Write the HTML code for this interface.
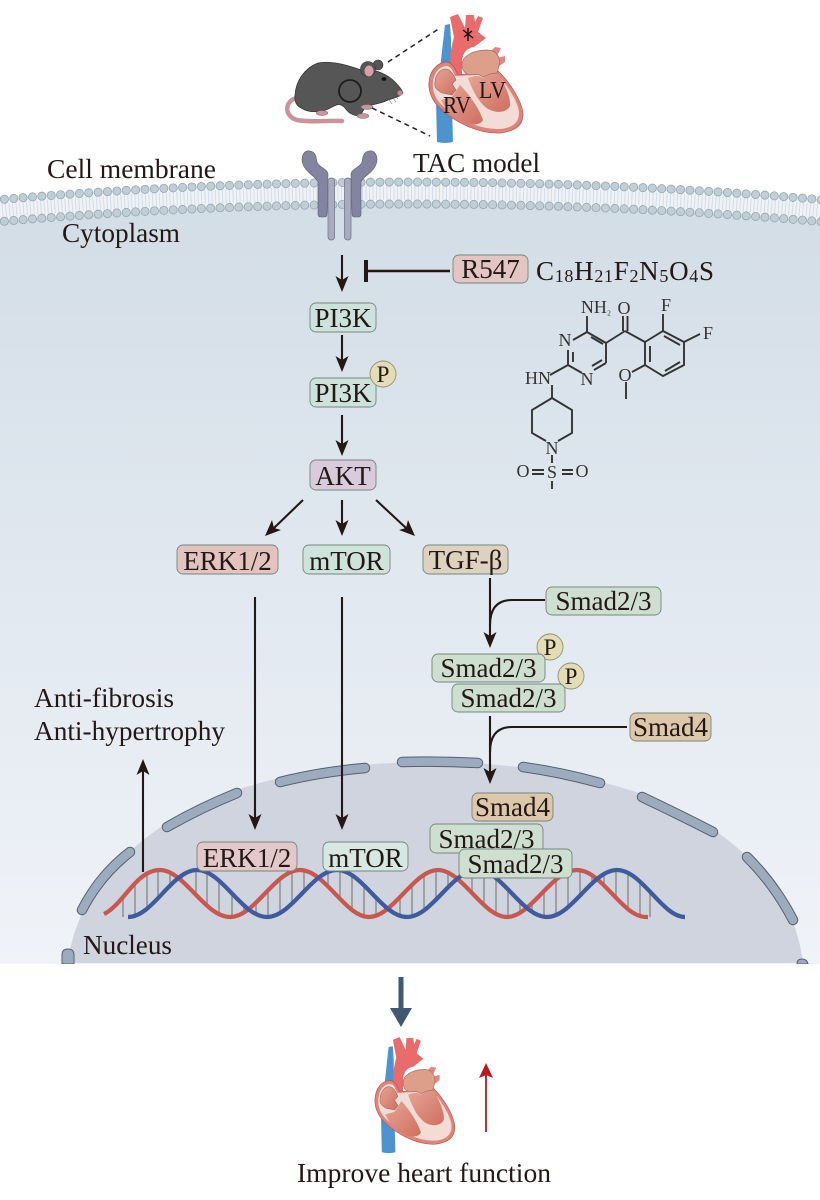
<!DOCTYPE html>
<html lang="en">
<head>
<meta charset="utf-8">
<title>R547 pathway diagram</title>
<style>
html,body{margin:0;padding:0;background:#fff;width:820px;height:1200px;overflow:hidden}
svg{display:block}
text{font-family:"Liberation Serif",serif;fill:#231815}
.l{font-size:27px}
.box{stroke:#76857c;stroke-width:.9}
.a{stroke:#231815;stroke-width:2.1;fill:none}
.h{fill:#231815;stroke:none}
.b{stroke:#333;stroke-width:1.9;fill:none}
.c{font-size:18px;fill:#333;text-anchor:middle}
.pc{fill:#e3dcb5;stroke:#8f9178;stroke-width:.9}
</style>
</head>
<body>
<svg width="820" height="1200" viewBox="0 0 820 1200" xmlns="http://www.w3.org/2000/svg">
<defs>
<linearGradient id="cy" x1="0" y1="200" x2="0" y2="964" gradientUnits="userSpaceOnUse">
<stop offset="0" stop-color="#d3dde6"/>
<stop offset=".45" stop-color="#e0e7ef"/>
<stop offset="1" stop-color="#f0f3f8"/>
</linearGradient>
<clipPath id="rung"><path clip-rule="evenodd" d="M104 914c20 -10 32 -44 56 -44s45 47 70 47s45 -47 70 -47s45 47 69 47s45 -47 69 -47s45 47 69 47s45 -47 70 -47s45 47 69 47L646 940L104 940Z M128 917c25 0 44 -47 69 -47s45 47 70 47s45 -47 70 -47s45 47 70 47s45 -47 70 -47s45 47 70 47s45 -47 70 -47s45 47 68 47L685 940L128 940Z"/></clipPath>
<linearGradient id="ch" x1="0" y1="0" x2="1" y2="1">
<stop offset="0" stop-color="#e6a596"/>
<stop offset="1" stop-color="#cf6f60"/>
</linearGradient>
<g id="heart">
<path d="M445 25L450 24L451 40L451 70L453 142Q445 144 437 142L436 100L441 60Z" fill="#4d93cf"/>
<path d="M450 17L458 14L465 28L466 15L474 15L475 22L478 16L483 18L478 32L486 38L474 47Q464 48 462 60L462 75L453 76Q449 60 451 50Q453 40 454 37Z" fill="#e96b6c"/>
<path d="M490 52L495 47L501 48L498 54L493 58Z M497 58L505 56L505 62L499 66Z" fill="#e5847f"/>
<path d="M429 82C430 70 438 62 447 62C452 63 455 68 458 75L497 70C508 80 522 100 523 114C523 126 515 131 500 133C480 134 455 123 440 108C433 102 428 92 429 82Z" fill="#e1837a" stroke="#a85a50" stroke-width=".7"/>
<path d="M433 82C434 72 440 66 447 66C452 67 453 72 455 76L497 74C506 84 519 102 519 113C519 123 512 128 500 129C482 130 458 120 443 106C436 100 432 92 433 82Z" fill="#f3dcd6"/>
<path d="M435 82C436 72 443 67 449 70C454 74 455 78 456 80L452 84L456 90L452 95L442 93C437 90 434 88 435 82Z" fill="url(#ch)" stroke="#a0665c" stroke-width=".6"/>
<path d="M441 100L452 97L460 85C470 95 480 110 483 120C480 126 470 125 462 122C452 118 445 108 441 100Z" fill="url(#ch)"/>
<path d="M468 78Q478 74 483 78Q490 73 498 74C505 84 511 98 510 106C506 113 497 113 490 110C480 105 473 92 468 78Z" fill="url(#ch)"/>
<path d="M462 65C462 55 475 50 487 50C497 50 501 58 499 66L497 73C490 73 486 76 483 77Q478 73 470 75C465 74 462 70 462 65Z" fill="#dd9f8a" stroke="#a56a60" stroke-width=".7"/>
</g>
</defs>

<rect width="820" height="1200" fill="#fff"/>
<!-- cytoplasm -->
<path d="M-5 222Q410 186 825 222L825 964L-5 964Z" fill="url(#cy)"/>
<!-- membrane -->
<path d="M-5 200Q410 164 825 200L825 222Q410 186 -5 222Z" fill="#eff3f7"/>
<path d="M-5 211Q410 175 825 211" fill="none" stroke="#d3dde6" stroke-width="14" stroke-dasharray="1 2.5"/>
<g fill="none" stroke-linecap="round" stroke-dasharray="0 9.4">
<path d="M-5 200Q410 164 825 200" stroke="#93a5b2" stroke-width="9"/>
<path d="M-5 200Q410 164 825 200" stroke="#c2ced6" stroke-width="7.4"/>
<path d="M-5 222Q410 186 825 222" stroke="#93a5b2" stroke-width="9"/>
<path d="M-5 222Q410 186 825 222" stroke="#c2ced6" stroke-width="7.4"/>
</g>

<!-- nucleus -->
<path d="M68 963C75 900 120 850 180 815C250 775 350 762 430 762C540 762 640 785 700 820C760 860 795 900 803 963Z" fill="#d0d4df"/>
<g fill="none" stroke-linecap="round">
<g stroke="#55606e" stroke-width="10.5">
<path d="M82 910Q100 875 130 852"/><path d="M167 827Q200 808 237 793"/><path d="M280 782Q320 772 365 768"/><path d="M402 762Q440 761 478 763"/><path d="M523 767Q560 772 600 783"/><path d="M642 797Q680 815 713 832"/><path d="M747 857Q775 885 793 920"/>
</g>
<g stroke="#9dabbf" stroke-width="8.5">
<path d="M82 910Q100 875 130 852"/><path d="M167 827Q200 808 237 793"/><path d="M280 782Q320 772 365 768"/><path d="M402 762Q440 761 478 763"/><path d="M523 767Q560 772 600 783"/><path d="M642 797Q680 815 713 832"/><path d="M747 857Q775 885 793 920"/>
</g>
</g>
<path d="M62 964V955Q62 949 68 949Q74 949 74 955V964Z" fill="#9dabbf" stroke="#55606e" stroke-width="1"/>
<path d="M797 964Q797 959 802 959Q807 959 808 964Z" fill="#9dabbf" stroke="#55606e" stroke-width="1"/>
<rect x="0" y="964" width="820" height="236" fill="#fff"/>

<!-- DNA -->
<path clip-path="url(#rung)" fill="none" stroke="#9a9a9d" stroke-width="1.8" d="M123 860V917M135 860V917M147 860V917M158 860V917M170 860V917M182 860V917M196 860V917M207 860V917M219 860V917M232 860V917M244 860V917M256 860V917M268 860V917M280 860V917M292 860V917M304 860V917M316 860V917M328 860V917M340 860V917M352 860V917M364 860V917M376 860V917M388 860V917M400 860V917M412 860V917M424 860V917M436 860V917M448 860V917M460 860V917M472 860V917M484 860V917M496 860V917M508 860V917M520 860V917M532 860V917M544 860V917M556 860V917M568 860V917M580 860V917M592 860V917M604 860V917M616 860V917M628 860V917M640 860V917M650 860V917"/>
<path d="M104 914c20 -10 32 -44 56 -44s45 47 70 47s45 -47 70 -47s45 47 69 47s45 -47 69 -47s45 47 69 47s45 -47 70 -47s45 47 69 47l2 0" fill="none" stroke="#c8584f" stroke-width="4.2"/>
<path d="M128 917c25 0 44 -47 69 -47s45 47 70 47s45 -47 70 -47s45 47 70 47s45 -47 70 -47s45 47 70 47s45 -47 70 -47s45 47 68 47" fill="none" stroke="#3f5b9e" stroke-width="4.2"/>

<!-- mouse -->
<path d="M297 98C285 100 283 116 297 120C315 123 330 120 342 121" fill="none" stroke="#c9949a" stroke-width="4.5" stroke-linecap="round"/>
<circle cx="378" cy="65" r="5" fill="#565656" stroke="#333" stroke-width=".6"/>
<path d="M295 95C296 80 305 68 318 63C332 60 350 66 364 71C375 68 388 75 395 82C399 86 402 90 403 93C400 97 394 98 388 100C380 104 372 105 366 106L360 116C352 116 348 112 345 108C340 103 338 104 332 107C325 112 312 113 305 110C298 107 294 104 295 95Z" fill="#565656" stroke="#333" stroke-width=".7"/>
<circle cx="368" cy="69" r="7.5" fill="#565656" stroke="#333" stroke-width=".6"/>
<ellipse cx="369" cy="71" rx="4.5" ry="5.5" fill="#d6a2a6"/>
<ellipse cx="384" cy="79" rx="2.4" ry="1.9" fill="#111"/>
<circle cx="400" cy="93" r="2.6" fill="#c9848a"/>
<path d="M388 92L396 102M385 94L392 104M390 90L398 99" stroke="#555" stroke-width=".5" fill="none"/>
<ellipse cx="322" cy="113" rx="6" ry="2.5" fill="#c9949a" stroke="#555" stroke-width=".4"/>
<ellipse cx="367" cy="107" rx="6" ry="2.5" fill="#c9949a" stroke="#555" stroke-width=".4"/>
<ellipse cx="363" cy="116" rx="6" ry="2.5" fill="#c9949a" stroke="#555" stroke-width=".4"/>
<circle cx="350" cy="91" r="11" fill="none" stroke="#1d1d1d" stroke-width="1.8"/>
<path d="M388 62L440 28M372 108L430 136" fill="none" stroke="#222" stroke-width="1.5" stroke-dasharray="5 4"/>

<!-- big heart -->
<use href="#heart"/>
<path d="M463 30L473 38M468 28L468 41M464 37L472 31" stroke="#111" stroke-width="1.4" fill="none"/>
<text x="443" y="113" font-size="24" textLength="28" lengthAdjust="spacingAndGlyphs">RV</text>
<text x="479" y="98" font-size="24" textLength="27" lengthAdjust="spacingAndGlyphs">LV</text>
<text class="l" x="413" y="172" textLength="127" lengthAdjust="spacingAndGlyphs">TAC model</text>

<!-- receptor -->
<g>
<path d="M302 160C302 153 306 150 310 151C316 152 316 157 317 162C319 168 327 168 328 174L327 214Q327 217 324 217L321 217Q318 217 318 214L318 182C316 176 303 172 302 160Z" fill="#83849f" stroke="#5c5d74" stroke-width=".6"/>
<rect x="328" y="178" width="6.500" height="62" rx="3" fill="#aaaac0" stroke="#6c6d84" stroke-width=".7"/>
</g>
<g transform="translate(679 0) scale(-1 1)">
<path d="M302 160C302 153 306 150 310 151C316 152 316 157 317 162C319 168 327 168 328 174L327 214Q327 217 324 217L321 217Q318 217 318 214L318 182C316 176 303 172 302 160Z" fill="#83849f" stroke="#5c5d74" stroke-width=".6"/>
<rect x="328" y="178" width="6.500" height="62" rx="3" fill="#aaaac0" stroke="#6c6d84" stroke-width=".7"/>
</g>

<text class="l" x="47" y="178" textLength="169" lengthAdjust="spacingAndGlyphs">Cell membrane</text>
<text class="l" x="62" y="242" textLength="118" lengthAdjust="spacingAndGlyphs">Cytoplasm</text>

<!-- inhibitor -->
<rect class="box" x="453" y="255" width="75" height="28" rx="6" fill="#e3c6c4"/>
<text class="l" x="490.500" y="278" text-anchor="middle">R547</text>
<text class="l" x="536" y="280" letter-spacing=".7">C<tspan font-size="18" dy="2">18</tspan><tspan dy="-2">H</tspan><tspan font-size="18" dy="2">21</tspan><tspan dy="-2">F</tspan><tspan font-size="18" dy="2">2</tspan><tspan dy="-2">N</tspan><tspan font-size="18" dy="2">5</tspan><tspan dy="-2">O</tspan><tspan font-size="18" dy="2">4</tspan><tspan dy="-2">S</tspan></text>
<path d="M366 271H450" stroke="#231815" stroke-width="2.400"/>
<path d="M366 260V282" stroke="#231815" stroke-width="4"/>

<!-- chemical structure -->
<path class="b" d="M587 332V316M587 332L573 340M587 332L606 343M591 337L603 344M606 343V363M606 363L594 370M602 360L592 366M582 373L568 365M568 365V350M573 362V352M568 365L550 375M552 385V398M552 398L532 410V433L546 441M552 398L572 410V433L558 441M552 455V463M532 470H544M532 474H544M562 470H573M562 474H573M552 481V489M606 343L625 331M623 331V316M627.500 331V316M625 331L645 342M645 342L663 331L684 342V365L663 376L645 365Z M650 346V362M664 336L680 345M680 362L665 371M663 331V314M684 342L700 334M645 365L632 372M626 382V399"/>
<text class="c" x="596" y="313">NH<tspan font-size="12">₂</tspan></text>
<text class="c" x="624" y="314">O</text>
<text class="c" x="666" y="311">F</text>
<text class="c" x="708" y="339">F</text>
<text class="c" x="565" y="346">N</text>
<text class="c" x="587" y="385">N</text>
<text class="c" x="538" y="384">HN</text>
<text class="c" x="625" y="381">O</text>
<text class="c" x="552" y="454">N</text>
<text class="c" x="523" y="477">O</text>
<text class="c" x="552" y="478">S</text>
<text class="c" x="582" y="477">O</text>

<!-- pathway arrows -->
<g class="a">
<path d="M342 255V281"/><path d="M342 335V361"/><path d="M342 415V446"/>
<path d="M303 500L274 528"/><path d="M342 500V526"/><path d="M376 500L406 528"/>
<path d="M255 597V820"/><path d="M342 597V820"/><path d="M143 872V770"/>
<path d="M490 578V638"/><path d="M545 600H512Q490 600 490 625"/>
<path d="M490 716V774"/><path d="M627 727H512Q490 727 490 752"/>
</g>
<g class="h">
<path d="M342 292L335.500 276L342 280L348.500 276Z"/>
<path d="M342 372L335.500 356L342 360L348.500 356Z"/>
<path d="M342 456L335.500 440L342 444L348.500 440Z"/>
<path d="M265 536L281 530L274 528L272 520Z"/>
<path d="M342 536L335.500 520L342 524L348.500 520Z"/>
<path d="M415 536L408 520L406 528L399 530Z"/>
<path d="M255 830L248.500 814L255 818L261.500 814Z"/>
<path d="M342 830L335.500 814L342 818L348.500 814Z"/>
<path d="M143 759L136.500 775L143 771L149.500 775Z"/>
<path d="M490 648L483.500 632L490 636L496.500 632Z"/>
<path d="M490 784L483.500 768L490 772L496.500 768Z"/>
</g>

<!-- nodes -->
<rect class="box" x="310" y="303" width="66" height="29" rx="6" fill="#cde2dc"/>
<text class="l" x="343" y="327" text-anchor="middle">PI3K</text>
<rect class="box" x="310" y="378" width="66" height="29" rx="6" fill="#cde2dc"/>
<text class="l" x="343" y="402" text-anchor="middle">PI3K</text>
<circle class="pc" cx="383" cy="374" r="13"/>
<text x="383" y="382" font-size="23" text-anchor="middle">P</text>
<rect class="box" x="310" y="460" width="66" height="30" rx="6" fill="#d9cbdc"/>
<text class="l" x="343" y="485" text-anchor="middle">AKT</text>
<rect class="box" x="177" y="545" width="101" height="29" rx="6" fill="#e2c3c0"/>
<text class="l" x="227.500" y="570" text-anchor="middle">ERK1/2</text>
<rect class="box" x="303" y="545" width="87" height="29" rx="6" fill="#cfe3dd"/>
<text class="l" x="346.500" y="570" text-anchor="middle">mTOR</text>
<rect class="box" x="423" y="545" width="85" height="29" rx="6" fill="#dcd2bf"/>
<text class="l" x="465.500" y="569" text-anchor="middle" font-size="25">TGF-β</text>
<rect class="box" x="546" y="587" width="115" height="28" rx="6" fill="#cfdfcf"/>
<text class="l" x="603.500" y="610" text-anchor="middle">Smad2/3</text>

<circle class="pc" cx="550" cy="647" r="13"/>
<text x="550" y="655" font-size="23" text-anchor="middle">P</text>
<rect class="box" x="432" y="654" width="113" height="28" rx="6" fill="#cfdfcf"/>
<text class="l" x="488.500" y="677" text-anchor="middle">Smad2/3</text>
<circle class="pc" cx="571" cy="676" r="13"/>
<text x="571" y="684" font-size="23" text-anchor="middle">P</text>
<rect class="box" x="452" y="684" width="113" height="28" rx="6" fill="#cfdfcf"/>
<text class="l" x="508.500" y="707" text-anchor="middle">Smad2/3</text>

<rect class="box" x="630" y="713" width="81" height="28" rx="6" fill="#dcc7ab"/>
<text class="l" x="670.500" y="736" text-anchor="middle">Smad4</text>
<rect class="box" x="472" y="793" width="81" height="28" rx="6" fill="#dcc7ab"/>
<text class="l" x="512.500" y="816" text-anchor="middle">Smad4</text>
<rect class="box" x="430" y="824" width="113" height="29" rx="6" fill="#cfdfcf"/>
<text class="l" x="486.500" y="848" text-anchor="middle">Smad2/3</text>
<rect class="box" x="459" y="849" width="113" height="29" rx="6" fill="#cfdfcf"/>
<text class="l" x="515.500" y="873" text-anchor="middle">Smad2/3</text>

<rect class="box" x="197" y="842" width="100" height="29" rx="6" fill="#e2c8c8"/>
<text class="l" x="247" y="867" text-anchor="middle">ERK1/2</text>
<rect class="box" x="323" y="842" width="85" height="29" rx="6" fill="#d7e8e3"/>
<text class="l" x="365.500" y="867" text-anchor="middle">mTOR</text>

<text class="l" x="34" y="707" textLength="140" lengthAdjust="spacingAndGlyphs">Anti-fibrosis</text>
<text class="l" x="34" y="740" textLength="191" lengthAdjust="spacingAndGlyphs">Anti-hypertrophy</text>
<text class="l" x="83" y="954" textLength="89" lengthAdjust="spacingAndGlyphs">Nucleus</text>

<!-- bottom -->
<path d="M398.500 977H403.500V1008H412L401 1027L390 1008H398.500Z" fill="#3f5a6e"/>
<use href="#heart" transform="translate(10.350 1024.500) scale(.85 .9)"/>
<path d="M486 1132V1072" stroke="#c5121f" stroke-width="1.8"/>
<path d="M486 1063L493 1078L486 1075L479 1078Z" fill="#c5121f"/>
<text class="l" x="297" y="1182" textLength="254" lengthAdjust="spacingAndGlyphs">Improve heart function</text>
</svg>
</body>
</html>
